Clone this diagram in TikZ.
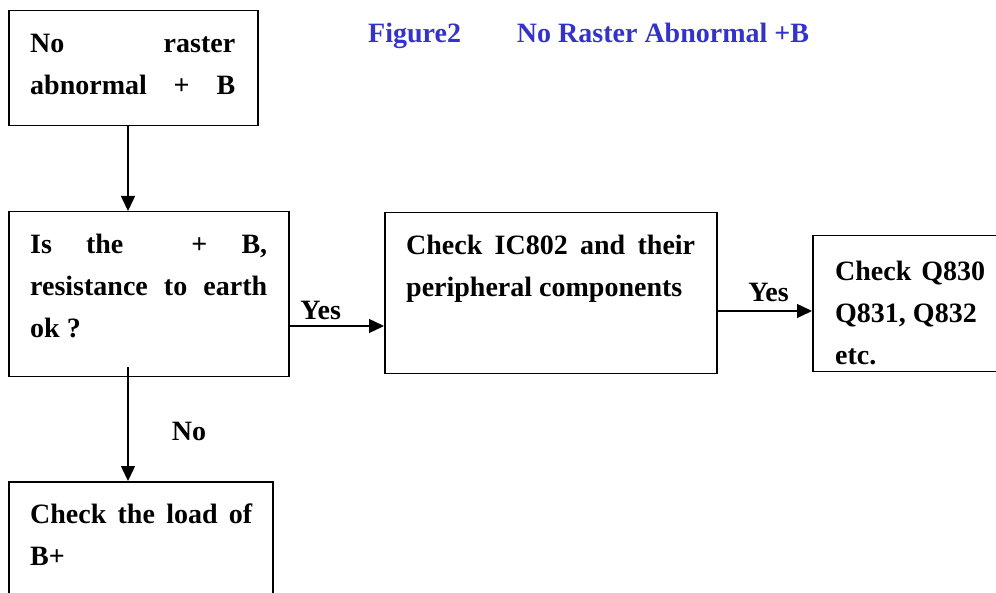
\documentclass[tikz,border=0pt]{standalone}
\usepackage{fontspec}
\setmainfont{Liberation Serif}
\usetikzlibrary{arrows.meta,calc,positioning}
\definecolor{titleblue}{RGB}{51,51,204}

\begin{document}
\begin{tikzpicture}[x=1pt, y=-1pt, >={Triangle[length=15pt,width=14pt]},
    frame/.style={draw, line width=1.5pt, inner sep=0pt, anchor=north west},
    txt/.style={inner sep=0pt, anchor=north west, align=justify, font=\bfseries\fontsize{28}{42}\selectfont},
    lbl/.style={inner sep=0pt, anchor=base, font=\bfseries\fontsize{28}{42}\selectfont},
    flow/.style={->, line width=1.4pt}]
    \clip (0,0) rectangle (996,593);

    % title
    \node[inner sep=0pt, anchor=base west, text=titleblue, font=\bfseries\fontsize{28}{42}\selectfont] (title) at (368,43) {Figure2\hspace{56pt}No Raster Abnormal +B};

    % boxes
    \node[frame, minimum width=249pt, minimum height=115pt] (start) at (8,10) {};
    \node[frame, minimum width=280pt, minimum height=165pt] (test) at (8,211) {};
    \node[frame, minimum width=332pt, minimum height=161pt] (ic) at (384,212) {};
    \node[frame, minimum width=200pt, minimum height=136pt] (trans) at (812,235) {};
    \node[frame, minimum width=264pt, minimum height=140pt] (load) at (8,481) {};

    % texts
    \node[txt, text width=205pt] (startText) at ($(start.north west)+(22,12.6)$) {\strut No raster\linebreak abnormal\hfill+\hfill B};
    \node[txt, text width=237pt] (testText) at ($(test.north west)+(22,12.6)$) {\strut Is the\ \ + B,\linebreak resistance to earth\linebreak ok~?};
    \node[txt, text width=289pt] (icText) at ($(ic.north west)+(22,12.6)$) {\strut Check IC802 and their\linebreak peripheral components};
    \node[txt, text width=150pt] (transText) at ($(trans.north west)+(23,15.6)$) {\strut Check Q830\linebreak Q831, Q832\newline etc.};
    \node[txt, text width=222pt] (loadText) at ($(load.north west)+(22,12.6)$) {\strut Check the load of\linebreak B+};

    % connectors
    \draw[flow] ([xshift=120pt]start.south west) -- ([xshift=120pt]test.north west);
    \draw[flow] ([yshift=-115pt]test.north east) -- ([yshift=-115pt]test.north east -| ic.west)
        node[lbl, pos=.33, yshift=6pt] {Yes};
    \draw[flow] ([yshift=-99pt]ic.north east) -- ([yshift=-99pt]ic.north east -| trans.west)
        node[lbl, pos=.54, yshift=9pt] {Yes};
    \draw[flow] ([xshift=120pt, yshift=10pt]test.south west) -- ([xshift=120pt]load.north west)
        node[lbl, pos=.64, xshift=61pt] {No};
\end{tikzpicture}
\end{document}
